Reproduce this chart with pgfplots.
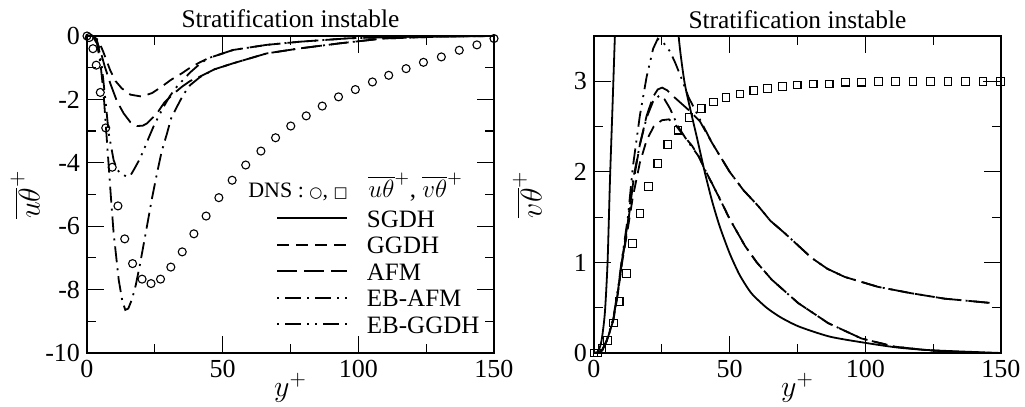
\RequirePackage{fix-cm}
\documentclass[border=0pt]{standalone}
\usepackage{fontspec}
\setmainfont{Liberation Serif}
\newfontfamily\symfont{DejaVu Sans}
\usepackage{pgfplots}
\pgfplotsset{compat=1.18}

\pgfplotsset{
 myaxis/.style={
  scale only axis, width=203.5pt, height=158.5pt,
  xmin=0, xmax=150, xtick={0,50,100,150}, minor xtick={25,75,125},
  tick align=inside, major tick length=8.5pt, minor tick length=4.5pt,
  axis line style={line width=1pt},
  every tick/.style={line width=0.6pt, black},
  tick label style={font=\fontsize{13}{15}\selectfont},
  /pgf/number format/assume math mode=true,
  title style={font=\fontsize{12.7}{15}\selectfont, at={(0.5,1)}, anchor=base, yshift=-2pt},
  xlabel={\fontsize{15}{18}\selectfont$y^+$},
  every axis x label/.style={at={(axis description cs:0.5,0)}, anchor=center, yshift=-17.5pt},
  clip mode=individual,
  every axis plot/.append style={line width=0.9pt, black},
 },
 sgdh/.style={solid},
 ggdh/.style={dash pattern=on 6pt off 3.5pt},
 afm/.style={dash pattern=on 10pt off 3.5pt},
 ebafm/.style={dash pattern=on 1pt off 3pt on 8pt off 3pt},
 ebggdh/.style={dash pattern=on 1pt off 3pt on 8pt off 3pt on 1pt off 3pt},
 dnsc/.style={only marks, mark=o, mark size=2pt, mark options={line width=0.55pt, solid}},
 dnss/.style={only marks, mark=square, mark size=1.9pt, mark options={line width=0.55pt, solid}},
}

\begin{document}
\begin{tikzpicture}
% ---------------- left axis ----------------
\begin{axis}[myaxis,
  at={(0,0)}, anchor=south west,
  ymin=-10, ymax=0, ytick={-10,-8,-6,-4,-2,0}, minor ytick={-9,-7,-5,-3,-1},
  title={Stratification instable},
  ylabel={\fontsize{15}{18}\selectfont$\overline{u\theta}^+$},
  every axis y label/.style={at={(axis description cs:-0.152,0.5)}, anchor=center, rotate=90},
  legend style={at={(axis cs:67.5,-5.21)}, anchor=north west, draw=none, fill=none,
    font=\fontsize{12.5}{15}\selectfont, row sep=0.65pt,
    nodes={inner sep=0.3pt, text height=10.5pt, text depth=1.5pt},
    /tikz/every odd column/.append style={column sep=9pt}},
  legend cell align=left,
  legend image code/.code={\draw[#1] (0pt,0pt) -- (35pt,0pt);},
]
\addplot[dnsc, forget plot] coordinates {
(0,0)(0.8,-0.05)(2.2,-0.4)(3.4,-0.92)(4.9,-1.78)(6.9,-2.9)(9.3,-4.14)(11.4,-5.36)
(13.9,-6.4)(16.8,-7.18)(20.3,-7.67)(23.6,-7.81)(27.1,-7.67)(30.9,-7.29)(35.1,-6.81)
(39.4,-6.24)(43.9,-5.68)(48.6,-5.1)(53.5,-4.55)(58.5,-4.07)(64.1,-3.63)(69.5,-3.21)
(75.1,-2.84)(80.8,-2.52)(86.7,-2.21)(92.7,-1.92)(98.9,-1.69)(105.2,-1.45)(111.2,-1.24)
(117.6,-1.03)(124.0,-0.83)(130.6,-0.66)(137.2,-0.45)(143.7,-0.28)(150,-0.08)};
\addplot[sgdh] coordinates {(0,0)(150,0)};
\addlegendentry{SGDH}
\addplot[ggdh] coordinates {
(0,0)(2,0)(4.2,-0.13)(6,-0.5)(8.5,-1.07)(10.5,-1.42)(12.8,-1.65)(16,-1.85)(20.1,-1.91)
(24,-1.8)(27.5,-1.6)(31,-1.38)(34.9,-1.18)(38,-1.0)(41.6,-0.83)(44.7,-0.7)(53.9,-0.44)
(66.2,-0.28)(78.5,-0.18)(96.9,-0.07)(120,-0.02)(150,0)};
\addlegendentry{GGDH}
\addplot[afm] coordinates {
(0,0)(2,0)(3.5,-0.15)(4.9,-0.45)(6.5,-0.95)(8.6,-1.5)(11,-2.05)(13.5,-2.44)(16,-2.72)
(18.4,-2.84)(20.5,-2.83)(22.1,-2.76)(25.8,-2.44)(28.5,-2.1)(31.9,-1.82)(35,-1.6)
(38,-1.42)(41.6,-1.28)(47,-1.05)(53.9,-0.86)(66.2,-0.55)(78.5,-0.39)(93.3,-0.23)
(109,-0.08)(130,-0.02)(150,0)};
\addlegendentry{AFM}
\addplot[ebafm] coordinates {
(0,0)(2,0)(3.7,-0.24)(5,-0.9)(6.1,-1.8)(7,-2.9)(8.0,-4.1)(9,-5.3)(9.8,-6.2)(11.7,-7.7)
(13,-8.35)(14.1,-8.64)(15.2,-8.6)(16.6,-8.3)(18,-7.85)(19.6,-7.17)(22.1,-6.0)(24,-5.1)
(25.8,-4.33)(27.5,-3.65)(29.5,-3.07)(31,-2.6)(33.1,-2.24)(35.5,-1.85)(38.0,-1.55)
(41.6,-1.3)(47,-1.05)(53.9,-0.86)(66.2,-0.55)(78.5,-0.39)(93.3,-0.23)(109,-0.08)
(130,-0.02)(150,0)};
\addlegendentry{EB-AFM}
\addplot[ebggdh] coordinates {
(0,0)(2,0)(3.7,-0.14)(4.6,-0.5)(5.5,-0.98)(6.8,-2.03)(8.0,-3.07)(9.8,-3.91)(11,-4.2)
(12.3,-4.33)(14.7,-4.44)(16,-4.4)(17.2,-4.23)(19,-3.95)(20.9,-3.6)(22.7,-3.22)(24.5,-2.86)
(26.5,-2.52)(28.2,-2.24)(30.5,-1.9)(33.1,-1.6)(35.5,-1.38)(38,-1.15)(41.6,-0.88)(44.7,-0.7)
(53.9,-0.44)(66.2,-0.28)(78.5,-0.18)(96.9,-0.07)(120,-0.02)(150,0)};
\addlegendentry{EB-GGDH}
\node[anchor=base west, font=\fontsize{11}{14}\selectfont, inner sep=0pt] at (axis cs:59.3,-5.11)
  {DNS : {\symfont\fontsize{7.5}{9}\selectfont ○}, {\symfont\fontsize{7.5}{9}\selectfont □}};
\node[anchor=base west, font=\fontsize{12.5}{15}\selectfont, inner sep=0pt] at (axis cs:103.6,-5.11)
  {$\overline{u\theta}^+$, $\overline{v\theta}^+$};
\end{axis}

% ---------------- right axis ----------------
\begin{axis}[myaxis,
  at={(253.5pt,0)}, anchor=south west,
  ymin=0, ymax=3.5, ytick={0,1,2,3}, minor ytick={0.5,1.5,2.5},
  title={Stratification instable},
  ylabel={\fontsize{15}{18}\selectfont$\overline{v\theta}^+$},
  every axis y label/.style={at={(axis description cs:-0.164,0.5)}, anchor=center, rotate=90},
]
\addplot[dnss] coordinates {
(0,0)(1.2,0)(3,0.05)(4.9,0.14)(7.2,0.33)(9.3,0.57)(11.9,0.88)(14.2,1.21)(17.0,1.54)
(20.1,1.84)(23.5,2.09)(27.2,2.30)(31.0,2.46)(35.0,2.60)(39.5,2.70)(44.0,2.77)(48.7,2.82)
(53.8,2.86)(58.9,2.90)(64.0,2.92)(69.4,2.94)(74.9,2.96)(80.8,2.97)(86.7,2.97)(92.6,2.99)
(98.6,2.99)(104.9,3.0)(111.2,3.0)(117.6,3.0)(124.0,3.0)(130.5,3.0)(136.9,3.0)(143.4,3.0)(149.8,3.0)};
\addplot[solid, line width=0.5pt] coordinates {(143.4,3.0)(149.8,3.0)};
\addplot[sgdh, smooth, tension=0.4] coordinates {
(0,0)(1.5,0.01)(2.8,0.14)(4,0.44)(5,1.0)(5.9,1.92)(6.8,2.7)(7.7,3.5)(10,5.5)(15,7)(20,7.2)
(25,6)(29,4.5)(31.2,3.5)(33.3,3.0)(35.5,2.69)(38,2.37)(40.8,2.0)(43.5,1.68)(46.3,1.40)
(50,1.1)(53.7,0.86)(58,0.66)(63.6,0.5)(69,0.39)(75.7,0.29)(87,0.18)(100.4,0.11)(112,0.06)
(124.6,0.03)(150,0)};
\addplot[ggdh] coordinates {
(0,0)(2,0.01)(3,0.03)(4.7,0.13)(7.1,0.36)(8.9,0.68)(10.2,0.97)(12.5,1.38)(14.3,1.72)
(16.9,2.1)(19.4,2.35)(22,2.5)(25,2.57)(27.6,2.58)(30,2.52)(33,2.4)(36.1,2.29)(38.6,2.17)
(40.8,2.03)(45.9,1.73)(50,1.48)(55.7,1.18)(60,1.0)(65.5,0.81)(75.3,0.55)(86.3,0.33)
(98.6,0.16)(110.8,0.07)(123,0.03)(135,0.01)(147,0.0)};
\addplot[afm] coordinates {
(0,0)(2,0.01)(3,0.03)(4.7,0.13)(7.1,0.36)(8.9,0.68)(10.2,0.98)(12.5,1.42)(14.3,1.85)
(16.9,2.3)(19.4,2.62)(21.8,2.83)(23.5,2.91)(25.1,2.93)(27,2.9)(29,2.84)(32,2.76)(35,2.68)
(39,2.56)(43.5,2.32)(50,2.0)(55,1.8)(60.6,1.62)(65,1.46)(70.4,1.32)(80.2,1.05)(86,0.93)
(92.4,0.84)(104.7,0.73)(116.9,0.66)(129.2,0.6)(140,0.57)(147,0.55)};
\addplot[ebafm] coordinates {
(0,0)(2,0.01)(3,0.03)(4.7,0.14)(7.1,0.37)(8.9,0.7)(10.2,1.0)(12.5,1.45)(14.3,1.9)
(16.9,2.3)(19.4,2.6)(21.8,2.78)(24,2.84)(26,2.8)(28,2.7)(31,2.5)(34,2.36)(38.6,2.17)
(40.8,2.03)(45.9,1.73)(50,1.48)(55.7,1.18)(60,1.0)(65.5,0.81)(75.3,0.55)(86.3,0.33)
(98.6,0.16)(110.8,0.07)(123,0.03)(135,0.01)(147,0.0)};
\addplot[ebggdh] coordinates {
(0,0)(2,0.01)(3,0.03)(4.7,0.14)(7.1,0.38)(8.9,0.72)(10.2,1.02)(12.5,1.5)(14.3,2.05)
(16.9,2.62)(19.4,3.05)(21.8,3.36)(23.5,3.47)(25.5,3.43)(28,3.33)(30,3.2)(32.4,3.02)
(34.9,2.82)(37,2.7)(39,2.58)(43.5,2.32)(50,2.0)(55,1.8)(60.6,1.62)(65,1.46)(70.4,1.32)
(80.2,1.05)(86,0.93)(92.4,0.84)(104.7,0.73)(116.9,0.66)(129.2,0.6)(140,0.57)(147,0.55)};
\end{axis}
\pgfresetboundingbox
\path[use as bounding box] (-43.5pt,-27pt) rectangle (469pt,176.5pt);
\end{tikzpicture}
\end{document}
